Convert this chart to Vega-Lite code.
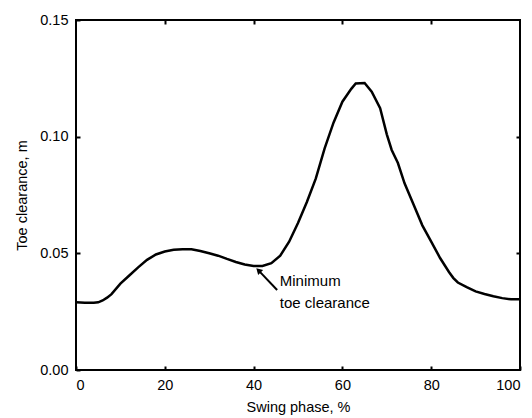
{
  "$schema": "https://vega.github.io/schema/vega-lite/v6.json",
  "width": 444,
  "height": 350,
  "autosize": "none",
  "padding": {"left": 76, "top": 20, "right": 12, "bottom": 48},
  "background": "white",
  "config": {
    "font": "Liberation Sans",
    "view": {"stroke": "black", "strokeWidth": 2},
    "axis": {
      "domain": false, "ticks": true, "tickColor": "black", "tickWidth": 2, "tickSize": 4, "offset": -4,
      "labelColor": "black", "titleColor": "black", "labelFontSize": 14.5, "titleFontSize": 14.5,
      "titleFontWeight": "normal", "grid": false, "labelFont": "Liberation Sans", "titleFont": "Liberation Sans"
    }
  },
  "datasets": {
    "curve": [
      {"phase": 0, "clearance": 0.0290}, {"phase": 2, "clearance": 0.0288}, {"phase": 4, "clearance": 0.0288},
      {"phase": 5, "clearance": 0.0290}, {"phase": 6, "clearance": 0.0298}, {"phase": 7, "clearance": 0.0310},
      {"phase": 8, "clearance": 0.0325}, {"phase": 10, "clearance": 0.0370}, {"phase": 12, "clearance": 0.0405},
      {"phase": 14, "clearance": 0.0440}, {"phase": 16, "clearance": 0.0472}, {"phase": 18, "clearance": 0.0495},
      {"phase": 20, "clearance": 0.0508}, {"phase": 22, "clearance": 0.0515}, {"phase": 24, "clearance": 0.0518},
      {"phase": 26, "clearance": 0.0517}, {"phase": 28, "clearance": 0.0510}, {"phase": 30, "clearance": 0.0500},
      {"phase": 32, "clearance": 0.0490}, {"phase": 34, "clearance": 0.0476}, {"phase": 36, "clearance": 0.0463},
      {"phase": 38, "clearance": 0.0452}, {"phase": 40, "clearance": 0.0446}, {"phase": 42, "clearance": 0.0446},
      {"phase": 44, "clearance": 0.0458}, {"phase": 46, "clearance": 0.0490}, {"phase": 48, "clearance": 0.0550},
      {"phase": 50, "clearance": 0.0630}, {"phase": 52, "clearance": 0.0720}, {"phase": 54, "clearance": 0.0820},
      {"phase": 56, "clearance": 0.0950}, {"phase": 58, "clearance": 0.1060}, {"phase": 60, "clearance": 0.1150},
      {"phase": 62, "clearance": 0.1205}, {"phase": 63, "clearance": 0.1228}, {"phase": 65, "clearance": 0.1230},
      {"phase": 66.6, "clearance": 0.1193}, {"phase": 68.5, "clearance": 0.1122}, {"phase": 70, "clearance": 0.1010},
      {"phase": 71.1, "clearance": 0.0943}, {"phase": 72.5, "clearance": 0.0887}, {"phase": 74, "clearance": 0.0800},
      {"phase": 76, "clearance": 0.0710}, {"phase": 78, "clearance": 0.0620}, {"phase": 80, "clearance": 0.0550},
      {"phase": 82, "clearance": 0.0480}, {"phase": 84, "clearance": 0.0420}, {"phase": 85, "clearance": 0.0394},
      {"phase": 86, "clearance": 0.0375}, {"phase": 88, "clearance": 0.0355}, {"phase": 90, "clearance": 0.0337},
      {"phase": 92, "clearance": 0.0326}, {"phase": 94, "clearance": 0.0316}, {"phase": 96, "clearance": 0.0308},
      {"phase": 98, "clearance": 0.0303}, {"phase": 100, "clearance": 0.0303}
    ],
    "arrow": [{"x": 45.3, "y": 0.0343, "x2": 41.1, "y2": 0.0427}],
    "tip": [{"x": 41.1, "y": 0.0427}],
    "label": [
      {"x": 45.9, "y": 0.0360, "text": "Minimum"},
      {"x": 45.9, "y": 0.0266, "text": "toe clearance"}
    ]
  },
  "resolve": {"axis": {"x": "independent", "y": "independent"}},
  "layer": [
    {
      "data": {"name": "curve"},
      "mark": {"type": "line", "color": "black", "strokeWidth": 2.5, "clip": true},
      "encoding": {
        "x": {"field": "phase", "type": "quantitative",
              "scale": {"domain": [0, 100], "nice": false},
              "axis": {"orient": "bottom", "values": [0, 20, 40, 60, 80, 100], "format": "d", "labelPadding": 8, "title": "Swing phase, %", "titlePadding": 9}},
        "y": {"field": "clearance", "type": "quantitative",
              "scale": {"domain": [0, 0.15], "nice": false, "zero": true},
              "axis": {"orient": "left", "values": [0, 0.05, 0.1, 0.15], "format": ".2f", "labelPadding": 8, "title": "Toe clearance, m", "titlePadding": 10}}
      }
    },
    {
      "data": {"name": "arrow"},
      "mark": {"type": "rule", "color": "black", "strokeWidth": 2},
      "encoding": {
        "x": {"field": "x", "type": "quantitative", "scale": {"domain": [0, 100], "nice": false},
              "axis": {"orient": "top", "values": [20, 40, 60, 80], "labels": false, "title": null}},
        "y": {"field": "y", "type": "quantitative", "scale": {"domain": [0, 0.15], "nice": false},
              "axis": {"orient": "right", "values": [0.05, 0.1], "labels": false, "title": null}},
        "x2": {"field": "x2"},
        "y2": {"field": "y2"}
      }
    },
    {
      "data": {"name": "tip"},
      "mark": {"type": "point", "shape": "triangle-up", "filled": true, "color": "black", "size": 50, "angle": -45, "opacity": 1},
      "encoding": {
        "x": {"field": "x", "type": "quantitative", "axis": null},
        "y": {"field": "y", "type": "quantitative", "axis": null}
      }
    },
    {
      "data": {"name": "label"},
      "mark": {"type": "text", "align": "left", "baseline": "alphabetic", "fontSize": 15, "color": "black", "font": "Liberation Sans"},
      "encoding": {
        "x": {"field": "x", "type": "quantitative", "axis": null},
        "y": {"field": "y", "type": "quantitative", "axis": null},
        "text": {"field": "text"}
      }
    }
  ]
}
